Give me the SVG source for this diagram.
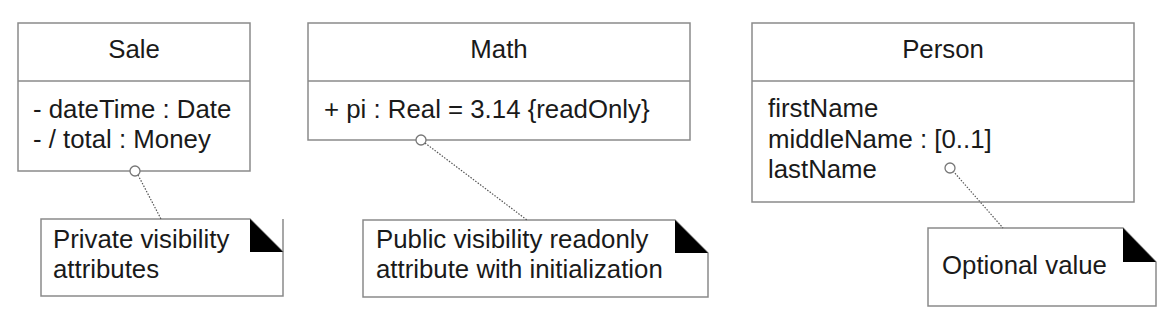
<svg xmlns="http://www.w3.org/2000/svg" width="1168" height="330" viewBox="0 0 1168 330">
<style>
.box{fill:#fff;stroke:#8a8a8a;stroke-width:1.5}
.ln{stroke:#8a8a8a;stroke-width:1.5;fill:none}
.t{font-family:"Liberation Sans",Arial,sans-serif;font-size:25.8px;fill:#1a1a1a}
.c{text-anchor:middle}
.anc{fill:#fff;stroke:#777;stroke-width:1.3}
.dot{stroke:#555;stroke-width:1.2;stroke-dasharray:1.5 1.5;fill:none}
.fold{fill:#000}
</style>
<rect width="1168" height="330" fill="#fff"/>
<g id="sale">
<rect class="box" x="18" y="23" width="232" height="148"/>
<line class="ln" x1="18" y1="81" x2="250" y2="81"/>
<text class="t c" x="134" y="58">Sale</text>
<text class="t" x="33" y="118">- dateTime : Date</text>
<text class="t" x="33" y="148">- / total : Money</text>
</g>
<g id="math">
<rect class="box" x="308" y="23" width="382" height="117"/>
<line class="ln" x1="308" y1="81" x2="690" y2="81"/>
<text class="t c" x="499" y="58">Math</text>
<text class="t" x="324" y="118">+ pi : Real = 3.14 {readOnly}</text>
</g>
<g id="person">
<rect class="box" x="752" y="23" width="382" height="179"/>
<line class="ln" x1="752" y1="81" x2="1134" y2="81"/>
<text class="t c" x="943" y="58">Person</text>
<text class="t" x="768" y="117">firstName</text>
<text class="t" x="768" y="148">middleName : [0..1]</text>
<text class="t" x="768" y="178">lastName</text>
</g>
<g id="note-sale">
<path class="box" d="M41,219 H250 L283,252 V296 H41 Z"/>
<line class="ln" x1="283" y1="219" x2="283" y2="252"/>
<path class="fold" d="M250,219 L283,252 H250 Z"/>
<text class="t" x="53" y="248">Private visibility</text>
<text class="t" x="53" y="278">attributes</text>
</g>
<g id="note-math">
<path class="box" d="M363,220 H675 L708,253 V297 H363 Z"/>
<path class="fold" d="M675,220 L708,253 H675 Z"/>
<text class="t" x="376" y="248">Public visibility readonly</text>
<text class="t" x="376" y="278">attribute with initialization</text>
</g>
<g id="note-person">
<path class="box" d="M928,228 H1123 L1156,262 V306 H928 Z"/>
<path class="fold" d="M1123,228 L1156,262 H1123 Z"/>
<text class="t" x="942" y="274">Optional value</text>
</g>
<g id="connectors">
<line class="dot" x1="138" y1="175" x2="161" y2="219"/>
<line class="dot" x1="425" y1="143" x2="527" y2="220"/>
<line class="dot" x1="953" y1="171" x2="1003" y2="228"/>
<circle class="anc" cx="135" cy="171" r="5"/>
<circle class="anc" cx="421" cy="140" r="5"/>
<circle class="anc" cx="950" cy="168" r="5"/>
</g>
</svg>
